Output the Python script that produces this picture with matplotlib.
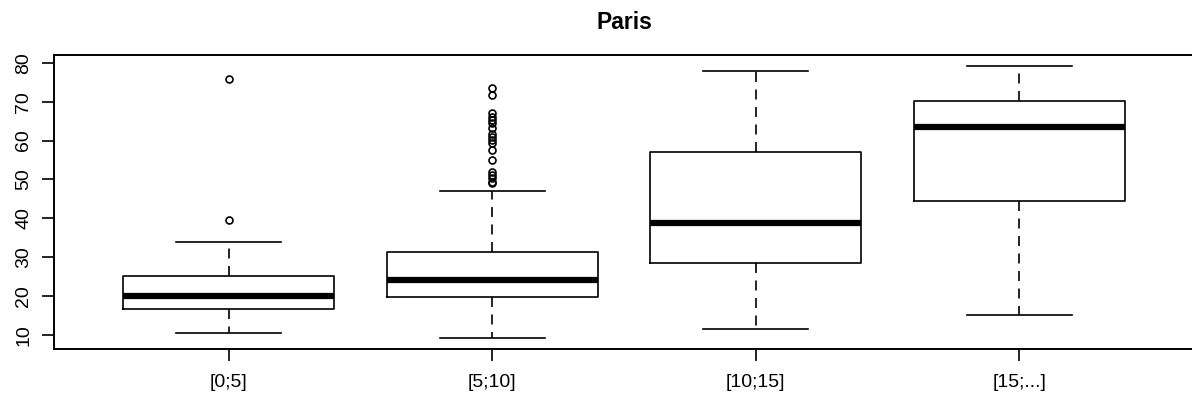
import matplotlib
matplotlib.use('Agg')
import matplotlib.pyplot as plt

plt.rcParams['font.family'] = ['Liberation Sans', 'DejaVu Sans']

# boxplot summaries
categories = ['[0;5]', '[5;10]', '[10;15]', '[15;...]']
whisker_low = [10.5, 9.1, 11.4, 15.2]
quart_low = [16.6, 19.7, 28.5, 44.4]
medians = [20.0, 24.1, 38.7, 63.4]
quart_high = [25.2, 31.4, 57.0, 70.1]
whisker_high = [34.0, 47.1, 77.9, 79.2]
outliers = [
    [75.8, 39.5],
    [73.4, 71.7, 67.0, 66.1, 65.3, 64.4, 63.1, 61.8, 61.0, 60.1, 59.3,
     57.5, 55.0, 52.0, 51.1, 50.3, 49.4, 49.0],
    [],
    [],
]
y_ticks = [10, 20, 30, 40, 50, 60, 70, 80]

stats = []
for i, name in enumerate(categories):
    stats.append({
        'label': name,
        'whislo': whisker_low[i],
        'q1': quart_low[i],
        'med': medians[i],
        'q3': quart_high[i],
        'whishi': whisker_high[i],
        'fliers': outliers[i],
    })

fig = plt.figure(figsize=(11.92, 4.01), dpi=100)
ax = fig.add_axes([54.3 / 1192, 52.3 / 401, 1139.4 / 1192, 293.7 / 401])

ax.bxp(stats, positions=[1, 2, 3, 4], widths=0.8, capwidths=0.4,
       boxprops=dict(color='black', linewidth=1.2),
       medianprops=dict(color='black', linewidth=4.5, solid_capstyle='butt'),
       whiskerprops=dict(color='black', linewidth=1.2, linestyle=(0, (6, 4.5))),
       capprops=dict(color='black', linewidth=1.2),
       flierprops=dict(marker='o', markersize=5, markerfacecolor='none',
                       markeredgecolor='black', markeredgewidth=1.2))

ax.set_xlim(0.338, 4.662)
ax.set_ylim(6.45, 82.0)
ax.set_yticks(y_ticks)
ax.set_yticklabels([str(t) for t in y_ticks], rotation=90, va='center')
ax.set_xticks([1, 2, 3, 4])
ax.set_xticklabels(categories)

for side in ['top', 'bottom', 'left', 'right']:
    ax.spines[side].set_linewidth(1.4)
ax.tick_params(axis='both', length=8.5, width=1.2, labelsize=14, color='black')
ax.tick_params(axis='x', pad=10)
ax.tick_params(axis='y', pad=7.5)

ax.set_title('Paris', fontsize=16.5, fontweight='bold', pad=19)

fig.savefig('out.png', dpi=100, facecolor='white')
